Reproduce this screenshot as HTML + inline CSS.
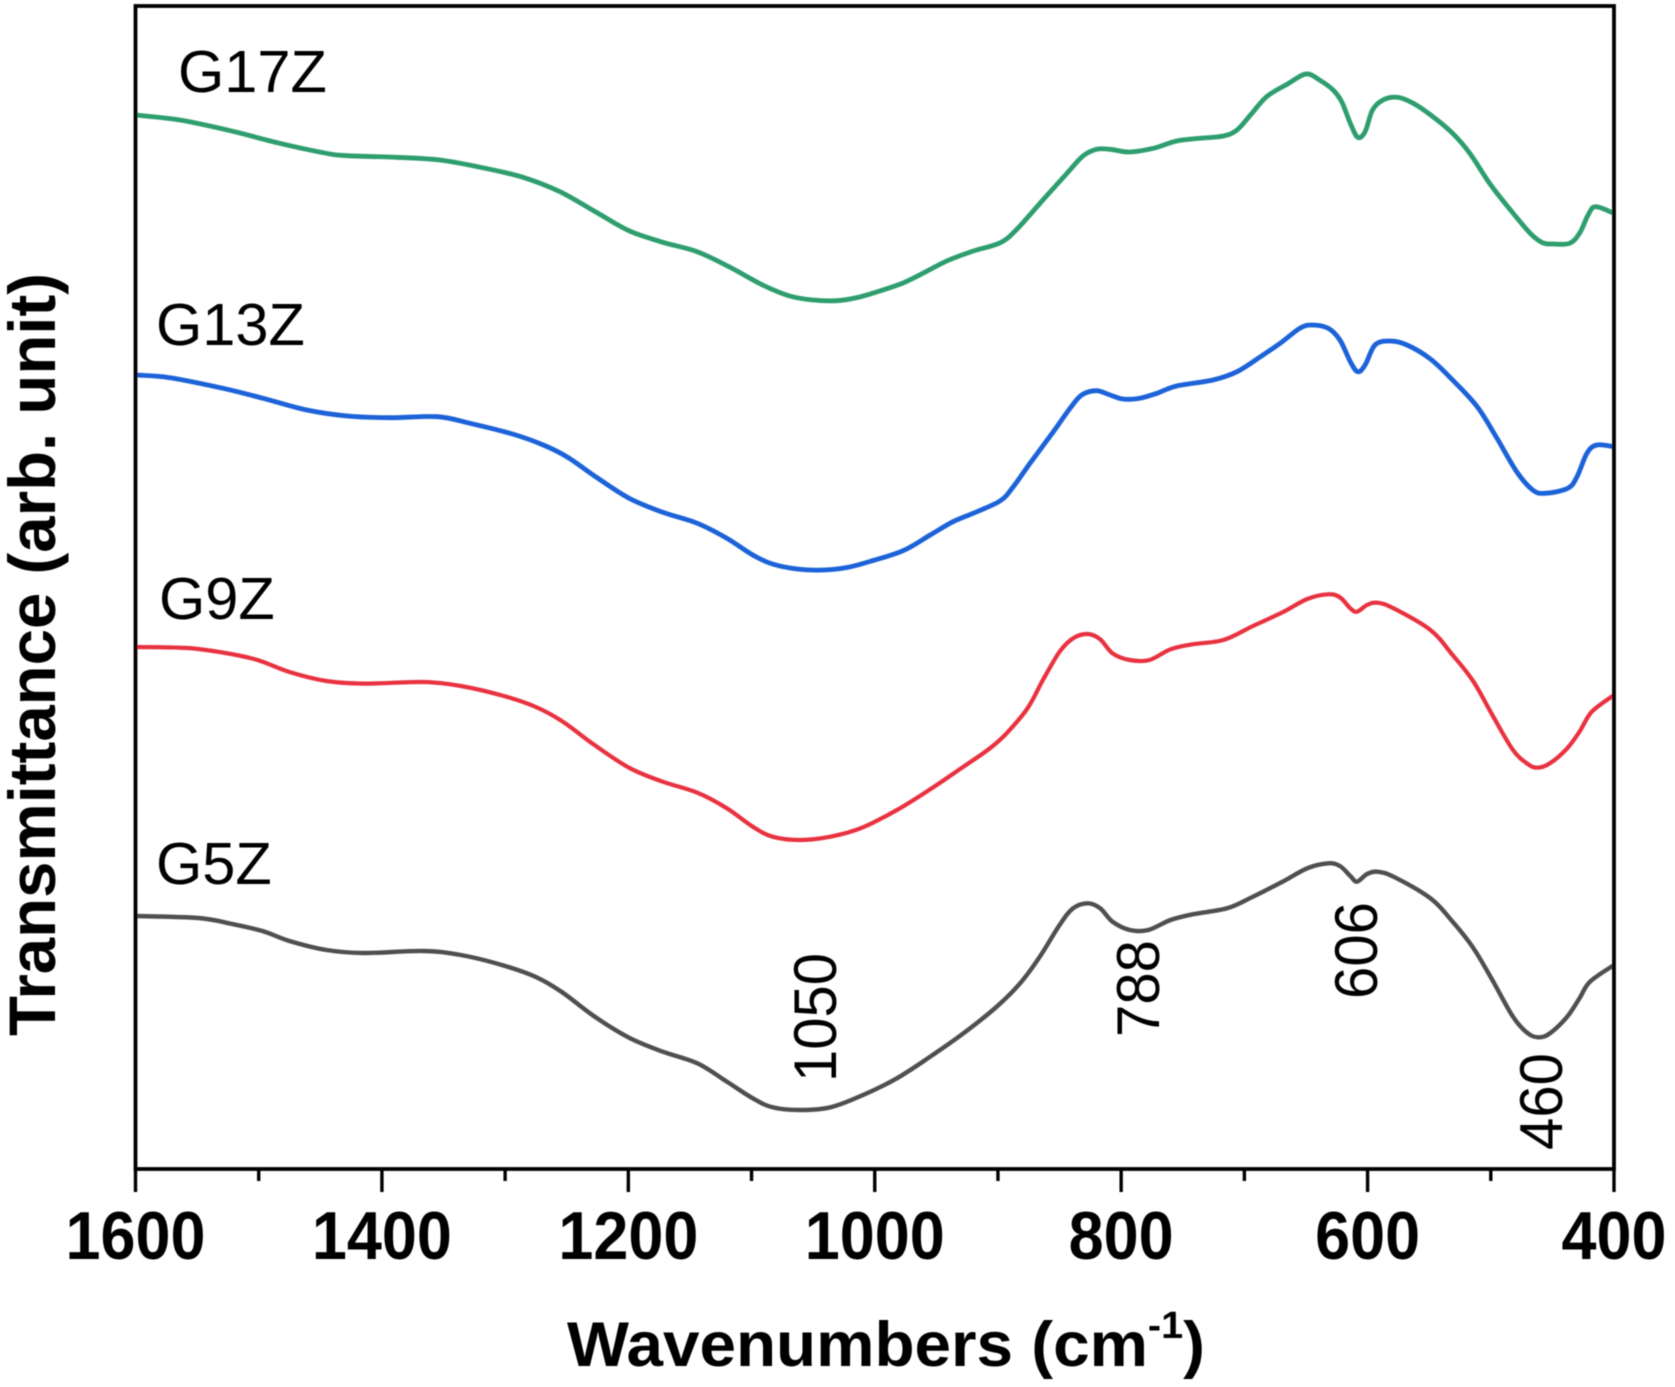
<!DOCTYPE html>
<html lang="en">
<head>
<meta charset="utf-8">
<title>FTIR transmittance spectra</title>
<style>
html,body{margin:0;padding:0;background:#fff;width:1675px;height:1387px;overflow:hidden}
svg{display:block}
text{font-family:"Liberation Sans",Arial,sans-serif;fill:#000}
</style>
</head>
<body>
<svg id="chart" xmlns="http://www.w3.org/2000/svg" width="1675" height="1387" viewBox="0 0 1675 1387">
  <defs><filter id="soft" x="-2%" y="-2%" width="104%" height="104%"><feGaussianBlur stdDeviation="0.6"/></filter></defs>
  <g id="root" filter="url(#soft)">
    <g id="series"></g>
    <g id="axes"></g>
    <text x="178" y="92" font-size="59.5">G17Z</text>
    <text x="156" y="345" font-size="59.5">G13Z</text>
    <text x="159" y="619" font-size="59.5">G9Z</text>
    <text x="156" y="884" font-size="59.5">G5Z</text>
    <text transform="translate(836 1082) rotate(-90)" font-size="60" textLength="129" lengthAdjust="spacingAndGlyphs">1050</text>
    <text transform="translate(1159 1037) rotate(-90)" font-size="60" textLength="97" lengthAdjust="spacingAndGlyphs">788</text>
    <text transform="translate(1377 999) rotate(-90)" font-size="60" textLength="97" lengthAdjust="spacingAndGlyphs">606</text>
    <text transform="translate(1562 1150) rotate(-90)" font-size="60" textLength="97" lengthAdjust="spacingAndGlyphs">460</text>
    <text x="567" y="1366" font-size="63" font-weight="700" textLength="638" lengthAdjust="spacingAndGlyphs">Wavenumbers (cm<tspan font-size="38" dy="-28">-1</tspan><tspan dy="28">)</tspan></text>
    <text transform="translate(55 1036) rotate(-90)" font-size="66" font-weight="700" textLength="763" lengthAdjust="spacingAndGlyphs">Transmittance (arb. unit)</text>
  </g>
</svg>
<script>
const majorTicks = [1600, 1400, 1200, 1000, 800, 600, 400];
const minorTicks = [1500, 1300, 1100, 900, 700, 500];
const tickLabels = ["1600", "1400", "1200", "1000", "800", "600", "400"];

const g17zWavenumbers = [1600,1564,1523,1483,1445,1428,1388,1353,1320,1285.5,1255.5,1225,1199,1172,1144,1117.5,1091,1069,1050,1031,1014,996,977,961,941,920,898,884.5,863.5,844,831,820,809,793,774,755,736,717,706,695,682,665,650,639,628,621,614,608,602,596,587.5,576,563,547,531,517,501,484,468,458,449.5,436,428,421,415,400];
const g17zValues = [1054,1049,1038.3,1025.7,1015.7,1013.3,1011.7,1009,1001.7,991.7,977.3,956,938,926.7,917.3,901.7,884,873,869,868.3,871.5,878,886,895.7,908.3,918,926.3,940,969,995.7,1013,1019.7,1019.7,1017,1020.7,1028,1030.7,1033,1039,1054,1072.3,1085,1095,1089,1079,1067.3,1045.7,1031.7,1037.3,1059,1069,1071.7,1065.7,1052.3,1035.7,1015.7,985.7,959,935.7,926.3,925,925.7,935.7,954,962.3,955.7];

const g13zWavenumbers = [1600,1572,1529,1496.5,1461,1428,1393,1355,1328.5,1294,1269,1250,1225,1199,1172,1144,1120,1099,1083,1063,1042,1022.5,1004,977,955,936.5,917,898,888,874,855,841.5,832,820,809,798.5,785,771,755,725.5,706,687,671,655,645,632,622.5,614,608,602,594,582,568,549,531,511,495,479,466,456,437.5,430,422,414,400];
const g13zValues = [794,791.3,780.7,770.7,759,753,751.3,752.3,745.7,735,724,712.3,691,670.5,656.7,645.7,630.7,614,605,600,599,601.5,607.5,618.3,634,647.3,657.3,668.3,681.5,705.7,737.3,760.7,774,778.3,774,770,770.7,775.7,783,789,797.3,812.3,825.7,840.7,844,840.7,829,807.3,797.3,804,824,828,824,810,789,762.3,730.7,697.3,679,675.7,680.7,692.3,715.7,724,722.3];

const g9zWavenumbers = [1600,1558,1527,1501,1475,1445,1414.5,1367,1336,1301,1275,1254,1227.5,1199,1172,1144,1120,1099,1083,1061,1036,1009.5,982,955,928,906.5,893,876,863.5,850,839,827,817,807,793,777,760,742,717,693,669,649,632,622.5,614,608.6,600.5,592,579,549,531,514,498,482,470,462,452,438,428,418,400];
const g9zValues = [522,521,516,509,497,488,485.4,487,483,473,462,448,424,401,387.3,376.3,360.7,342.3,332.3,329,332.3,341.7,359,379.7,402.3,420.7,435.7,460.7,489,517.3,530.7,535,529.7,515.7,509,509,519.7,524.7,529,543,556.7,570,574.7,571.7,560.7,557.3,564,566.3,560.7,539,514,487.3,452.3,419,405,401.3,405.7,420.7,437.3,457.3,474];

const g5zWavenumbers = [1600,1549,1523,1497,1475,1445,1414.5,1367,1336,1301,1275,1254,1227.5,1199,1172,1144,1120,1099,1083,1061,1036,1009.5,982,955,928,901,882,866,850,839,827,817,807,793,778,760,742,714,693,669,649,632,622.5,614,608.6,600.5,592,579,549,531,514,498,482,470,461,452,438,428,419.5,400];
const g5zValues = [253,251,245.4,238,228,219,216,218,214,203.4,192,177,152.5,131,117.3,105.7,87.3,70.7,61.7,59,61.7,74,90.7,112.3,135.7,162.3,185.7,212.3,244,260.7,265.7,260.7,247.3,239,239,249,254.7,260.7,272.3,287.3,300.7,305.7,303,293,287.3,295,297.3,292.3,270.7,247.3,220.7,187.3,152.3,135.7,131.7,135.7,152.3,170.7,187.3,204];

const SVG_NS = "http://www.w3.org/2000/svg";
const plot = { left: 135.5, right: 1614, top: 6, bottom: 1169 };
const xDomain = [1600, 400];
const yDomain = [0, 1163];

function xScale(w) {
  return plot.left + (w - xDomain[0]) / (xDomain[1] - xDomain[0]) * (plot.right - plot.left);
}
function yScale(v) {
  return plot.bottom - (v - yDomain[0]) / (yDomain[1] - yDomain[0]) * (plot.bottom - plot.top);
}
function smoothPath(xs, ys) {
  const pts = xs.map((w, i) => [xScale(w), yScale(ys[i])]);
  let d = "M" + pts[0][0].toFixed(1) + " " + pts[0][1].toFixed(1);
  for (let i = 0; i < pts.length - 1; i++) {
    const p0 = pts[Math.max(0, i - 1)];
    const p1 = pts[i];
    const p2 = pts[i + 1];
    const p3 = pts[Math.min(pts.length - 1, i + 2)];
    const c1x = p1[0] + (p2[0] - p0[0]) / 6;
    const c1y = p1[1] + (p2[1] - p0[1]) / 6;
    const c2x = p2[0] - (p3[0] - p1[0]) / 6;
    const c2y = p2[1] - (p3[1] - p1[1]) / 6;
    d += "C" + c1x.toFixed(1) + " " + c1y.toFixed(1) + " " + c2x.toFixed(1) + " " + c2y.toFixed(1) + " " + p2[0].toFixed(1) + " " + p2[1].toFixed(1);
  }
  return d;
}

const seriesLayer = document.getElementById("series");
function drawSeries(name, xs, ys, color, width) {
  const path = document.createElementNS(SVG_NS, "path");
  path.setAttribute("d", smoothPath(xs, ys));
  path.setAttribute("fill", "none");
  path.setAttribute("stroke", color);
  path.setAttribute("stroke-width", width);
  path.setAttribute("stroke-linejoin", "round");
  
  
  seriesLayer.appendChild(path);
}
drawSeries("series-g17z", g17zWavenumbers, g17zValues, "#2f9e6e", 4.8);
drawSeries("series-g13z", g13zWavenumbers, g13zValues, "#1c62d8", 4.8);
drawSeries("series-g9z", g9zWavenumbers, g9zValues, "#e8323f", 4.2);
drawSeries("series-g5z", g5zWavenumbers, g5zValues, "#505050", 4.4);

const axesLayer = document.getElementById("axes");
const frame = document.createElementNS(SVG_NS, "rect");
frame.setAttribute("x", plot.left);
frame.setAttribute("y", plot.top);
frame.setAttribute("width", plot.right - plot.left);
frame.setAttribute("height", plot.bottom - plot.top);
frame.setAttribute("fill", "none");
frame.setAttribute("stroke", "#000");
frame.setAttribute("stroke-width", "3.8");


axesLayer.appendChild(frame);

majorTicks.forEach((t, i) => {
  const line = document.createElementNS(SVG_NS, "line");
  line.setAttribute("x1", xScale(t));
  line.setAttribute("x2", xScale(t));
  line.setAttribute("y1", plot.bottom);
  line.setAttribute("y2", plot.bottom + 23);
  line.setAttribute("stroke", "#000");
  line.setAttribute("stroke-width", "3.4");
  
  
  axesLayer.appendChild(line);

  const label = document.createElementNS(SVG_NS, "text");
  label.textContent = tickLabels[i];
  label.setAttribute("x", xScale(t));
  label.setAttribute("y", 1259);
  label.setAttribute("font-size", "68");
  label.setAttribute("font-weight", "700");
  label.setAttribute("text-anchor", "middle");
  label.setAttribute("textLength", tickLabels[i].length * 35);
  label.setAttribute("lengthAdjust", "spacingAndGlyphs");
  
  
  axesLayer.appendChild(label);
});

minorTicks.forEach((t) => {
  const line = document.createElementNS(SVG_NS, "line");
  line.setAttribute("x1", xScale(t));
  line.setAttribute("x2", xScale(t));
  line.setAttribute("y1", plot.bottom);
  line.setAttribute("y2", plot.bottom + 12);
  line.setAttribute("stroke", "#000");
  line.setAttribute("stroke-width", "3.4");
  
  
  axesLayer.appendChild(line);
});
</script>
</body>
</html>
